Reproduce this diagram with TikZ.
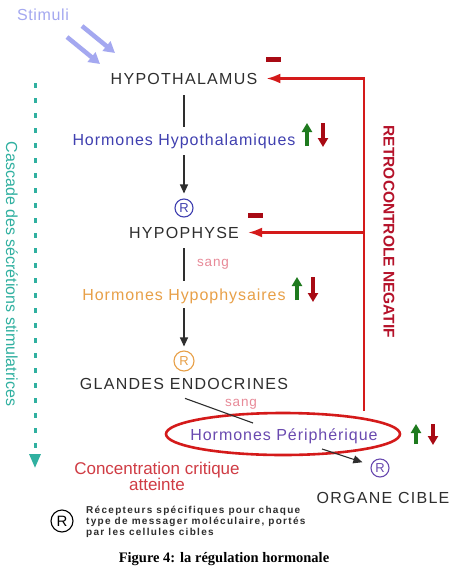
\documentclass[tikz,border=0pt]{standalone}
\usepackage{fontspec}
\setmainfont{Liberation Sans}
\newfontfamily\captionserif{Liberation Serif}
\usetikzlibrary{arrows.meta,shapes.geometric}

\definecolor{stimcol}{HTML}{A4A8F0}
\definecolor{textgray}{HTML}{2E2E2E}
\definecolor{hypocol}{HTML}{4040B0}
\definecolor{physcol}{HTML}{E8A048}
\definecolor{pericol}{HTML}{6A4AB0}
\definecolor{sangcol}{HTML}{E88A98}
\definecolor{fbred}{HTML}{D41A1A}
\definecolor{darkred}{HTML}{A80A14}
\definecolor{retrored}{HTML}{B5122A}
\definecolor{cascol}{HTML}{30B0A0}
\definecolor{upgreen}{HTML}{1E7A1E}
\definecolor{concred}{HTML}{D03C44}

\newcommand\spaced[1]{\addfontfeature{LetterSpace=#1}}

\begin{document}
\begin{tikzpicture}[x=1pt, y=-1pt, inner sep=0pt,
  organ/.style={font=\fontsize{16}{19}\selectfont\spaced{8}, text=textgray, anchor=base},
  hormone/.style={font=\fontsize{16}{19}\selectfont\spaced{6}, anchor=base},
  sang/.style={font=\fontsize{13.5}{16}\selectfont\spaced{6}, text=sangcol, anchor=base},
  recep/.style={circle, draw, line width=1.1pt, minimum size=18pt, font=\fontsize{13}{15}\selectfont},
  link/.style={draw=textgray, line width=1.1pt},
  flow/.style={link, -{Triangle[length=9pt,width=8pt]}},
  feedback/.style={draw=fbred, line width=2.3pt},
  fbarrow/.style={feedback, -{Latex[length=14pt,width=10pt]}},
  minusbar/.style={fill=darkred, minimum width=15pt, minimum height=5pt},
  risearrow/.style={draw=upgreen, line width=4pt, -{Triangle[length=9pt,width=10pt]}},
  fallarrow/.style={risearrow, draw=darkred},
  stimarrow/.style={draw=stimcol, line width=4.5pt, -{Triangle[length=11pt,width=12pt]}}]

  \fill[white] (0,0) rectangle (455,566);
  \useasboundingbox (0,0) rectangle (455,566);

  % stimuli
  \node[font=\fontsize{16}{19}\selectfont\spaced{4}, text=stimcol] (stimuli) at (43,15) {Stimuli};
  \draw[stimarrow] (82,26) -- (115,53);
  \draw[stimarrow] (67,37) -- (100,64);

  % main chain
  \node[organ] (hypothal) at (184,84) {HYPOTHALAMUS};
  \node[hormone, text=hypocol] (hormhypo) at (184,145) {Hormones Hypothalamiques};
  \node[recep, draw=hypocol, text=hypocol] (recA) at (184,208) {R};
  \node[organ] (hypophyse) at (184,238) {HYPOPHYSE};
  \node[sang] (sangA) at (213,266) {sang};
  \node[hormone, text=physcol] (hormphys) at (184,300) {Hormones Hypophysaires};
  \node[recep, draw=physcol, text=physcol, minimum size=20pt] (recB) at (184,361) {R};
  \node[organ] (glandes) at (184,389) {GLANDES ENDOCRINES};
  \node[sang] (sangB) at (241,406) {sang};

  \draw[link, shorten <=11pt, shorten >=6.5pt] (hypothal) -- (hormhypo);
  \draw[flow, shorten <=6.5pt, shorten >=5pt] (hormhypo) -- (recA);
  \draw[link, shorten <=10pt, shorten >=7.5pt] (hypophyse) -- (hormphys);
  \draw[flow, shorten <=4.5pt, shorten >=4pt] (hormphys) -- (recB);

  % peripheral hormones
  \node[ellipse, draw=fbred, line width=2.6pt, minimum width=234pt, minimum height=42pt] (periring) at (283,434) {};
  \node[hormone, text=pericol] (hormperi) at (284,440) {Hormones Périphérique};
  \coordinate (periin) at (253,423);
  \draw[link] ([shift={(1,9)}]glandes.south) -- (periin);
  \node[recep, draw=pericol, text=pericol] (recC) at (380,468) {R};
  \node[organ] (organe) at (383,503) {ORGANE CIBLE};
  \draw[flow, shorten >=9pt] ([shift={(39,15)}]periring.center) -- (recC);

  % negative feedback
  \coordinate (fbbot) at (364,411);
  \draw[fbarrow] (fbbot) |- ([xshift=9pt]hypothal.east);
  \draw[fbarrow] (fbbot |- hypophyse.east) -- ([xshift=9pt]hypophyse.east);
  \node[minusbar] (minusA) at (273.5,59.5) {};
  \node[minusbar] (minusB) at (255.5,215) {};
  \node[font=\fontsize{15.5}{18}\selectfont\bfseries, text=retrored, rotate=-90] (retro) at (389,232) {RETROCONTROLE NEGATIF};

  % rise and fall
  \draw[risearrow] (307,146) -- (307,123);
  \draw[fallarrow] (323,123) -- (323,147);
  \draw[risearrow] (297,300) -- (297,277);
  \draw[fallarrow] (313,277) -- (313,302);
  \draw[risearrow] (416,444) -- (416,424);
  \draw[fallarrow] (433,424) -- (433,445);

  % cascade
  \coordinate (cascTop) at (35,83);
  \coordinate (cascBot) at (35,468);
  \draw[cascol, line width=3pt, dash pattern=on 5pt off 10pt, -{Triangle[length=14pt,width=11pt]}] (cascTop) -- (cascBot);
  \node[font=\fontsize{16}{19}\selectfont, text=cascol, rotate=-90] (cascade) at (12,274) {Cascade des sécrétions stimulatrices};

  % critical level
  \node[font=\fontsize{17}{20}\selectfont, text=concred, anchor=base] (concA) at (157,474) {Concentration critique};
  \node[font=\fontsize{17}{20}\selectfont, text=concred, anchor=base] (concB) at (157,490) {atteinte};

  % legend
  \node[recep, draw=black, text=black, minimum size=22pt, font=\fontsize{15}{17}\selectfont] (legendR) at (62,521) {R};
  \node[anchor=north west, align=left, font=\fontsize{10}{11}\selectfont\bfseries\spaced{13}, text=textgray] (legendtxt) at (86,506)
    {Récepteurs spécifiques pour chaque\\type de messager moléculaire, portés\\par les cellules cibles};

  % caption
  \node[font={\captionserif\bfseries\fontsize{14.5}{17}\selectfont}, anchor=base] (caption) at (224,562) {Figure 4: la régulation hormonale};

\end{tikzpicture}
\end{document}
